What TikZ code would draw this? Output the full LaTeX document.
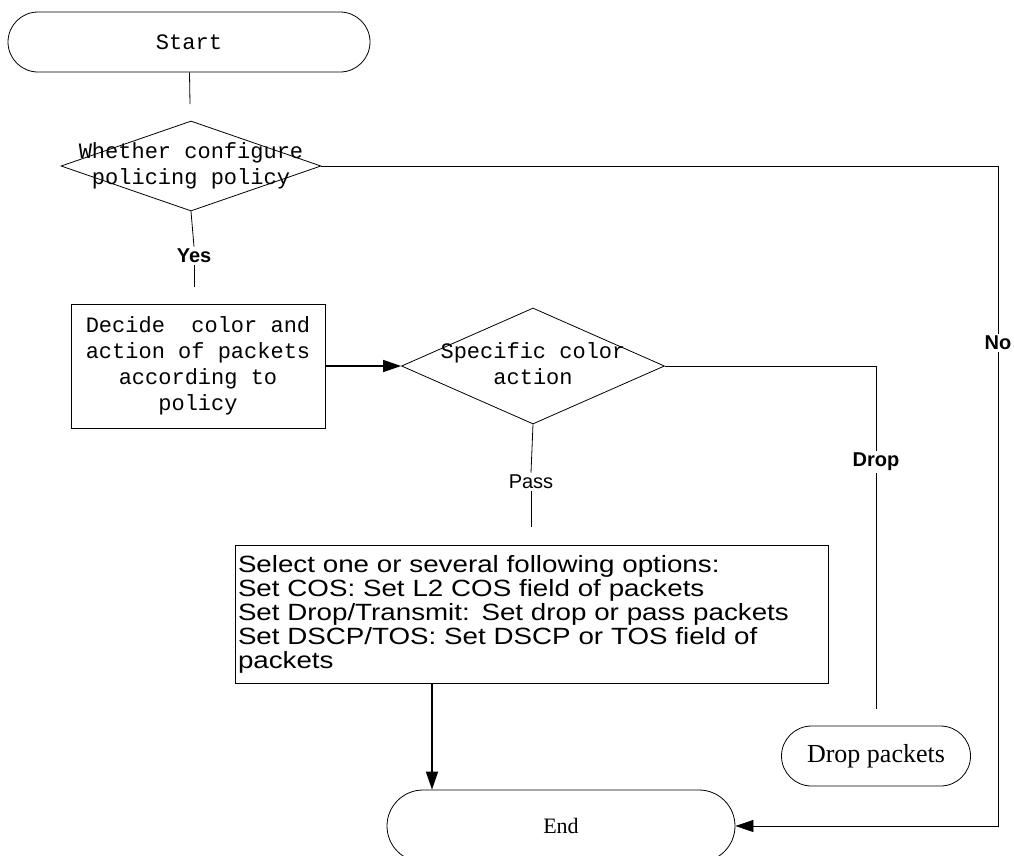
\documentclass[tikz,border=0pt]{standalone}
\usepackage{fontspec}
\setmainfont{Liberation Serif}
\setsansfont{Liberation Sans}
\setmonofont{Liberation Mono}
\newfontfamily\widesans[FakeStretch=1.18]{Liberation Sans}
\usetikzlibrary{shapes.misc,shapes.geometric,arrows.meta}

\begin{document}
\begin{tikzpicture}[x=1pt,y=-1pt,
    line width=0.8pt,
    terminal/.style={draw,rounded rectangle,inner sep=0pt},
    decision/.style={draw,diamond,inner sep=0pt},
    monotext/.style={font=\ttfamily\fontsize{22}{26}\selectfont,align=center,inner sep=0pt},
    lbl/.style={font=\sffamily\fontsize{20}{22}\selectfont,inner sep=2pt,fill=white},
    boldlbl/.style={lbl,font=\sffamily\bfseries\fontsize{20}{22}\selectfont},
    flow/.style={-{Triangle[length=18pt,width=12pt]}}]
\useasboundingbox (0,0) rectangle (1014,855);
% start and first question
\node[terminal,minimum width=362pt,minimum height=60pt,font=\ttfamily\fontsize{22}{26}\selectfont] (start) at (189,42) {Start};
\coordinate (s1) at (190,104);
\draw (start) -- (s1);
\node[decision,minimum width=260pt,minimum height=90pt] (q1) at (191,166) {};
\node[monotext] (q1text) at (q1) {Whether configure\\policing policy};
\node[boldlbl] (yes) at (194,256) {Yes};
\coordinate (y2) at (194,287);
\draw (q1.south) -- (yes.north);
\draw (yes.south) -- (y2);
% deciding the colour
\node[draw,minimum width=254pt,minimum height=124pt,monotext,inner sep=0pt] (decide) at (198,366) {Decide\ \ color and\\action of packets\\according to\\policy};
\node[decision,minimum width=263pt,minimum height=116pt] (spec) at (533,366) {};
\node[monotext] (spectext) at (533,364) {Specific color\\action};
\draw[flow,line width=1.6pt] (decide.east) -- (spec.west);
% pass branch
\node[lbl] (pass) at (531,482) {Pass};
\coordinate (p2) at (531,527);
\draw (spec.south) -- (pass.north);
\draw (pass.south) -- (p2);
\node[draw,font=\widesans\fontsize{23.5}{24}\selectfont,align=left,text width=587pt,
      minimum height=138pt,inner sep=3pt] (options) at (531.5,614)
  {Select one or several following options:\\
   Set COS: Set L2 COS field of packets\\
   Set Drop/Transmit: Set drop or pass packets\\
   Set DSCP/TOS: Set DSCP or TOS field of\\
   packets};
% drop branch
\node[boldlbl] (drop) at (876,462) {Drop};
\coordinate (d2) at (876,709);
\draw (spec.east) -| (drop.north);
\draw (drop.south) -- (d2);
\node[terminal,minimum width=189pt,minimum height=60pt,font=\fontsize{26}{30}\selectfont] (droppk) at (876,756) {Drop packets};
% end
\node[terminal,minimum width=348pt,minimum height=72pt,font=\fontsize{22}{26}\selectfont] (end) at (561,826) {End};
\coordinate (o1) at ([xshift=-99.5pt]options.south);
\draw[flow,line width=1.6pt] (o1) -- (o1 |- end.north);
% no branch
\node[boldlbl] (no) at (998,343) {No};
\draw (q1.east) -| (no.north);
\draw[flow] (no.south) |- (end.east);
\end{tikzpicture}
\end{document}
